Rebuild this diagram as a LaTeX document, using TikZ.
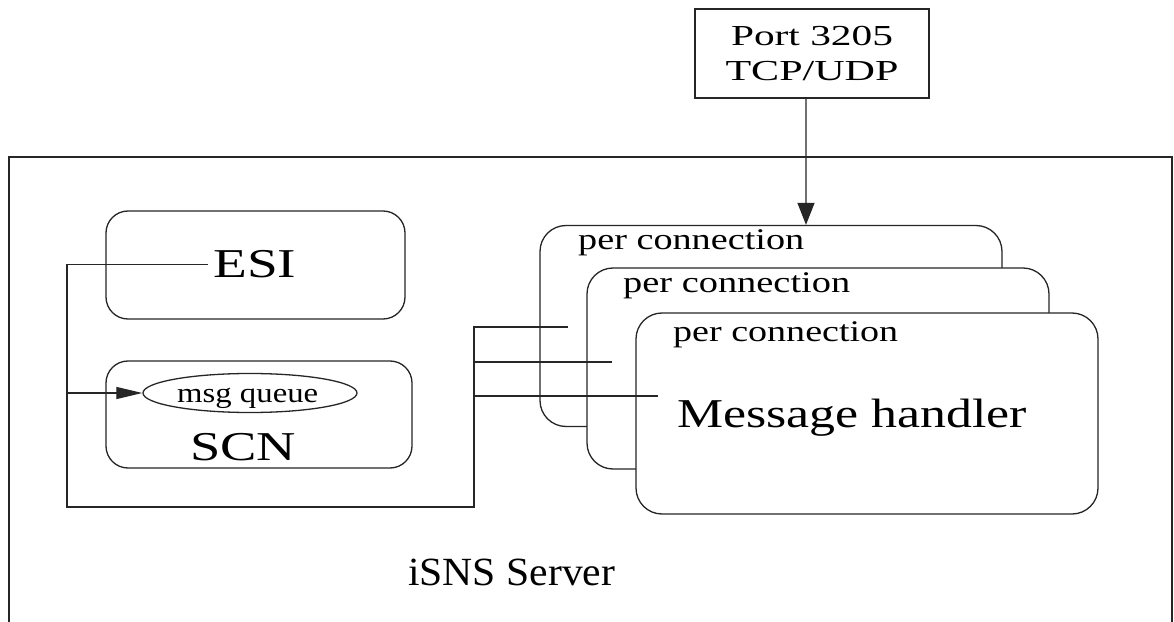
\documentclass[tikz,border=0pt]{standalone}
\usepackage{fontspec}
\setmainfont{Liberation Serif}
\usepackage{graphicx}
\usetikzlibrary{arrows.meta,shapes.geometric}
\newcommand{\fitw}[3]{\resizebox{#1bp}{\height}{\fontsize{#2bp}{#2bp}\selectfont #3}}
\begin{document}
\begin{tikzpicture}[x=1bp,y=-1bp,
  ln/.style={line width=1.3bp, draw=black!85},
  rbox/.style={ln, rectangle, rounded corners=22bp, inner sep=0pt, fill=white},
  hbox/.style={rbox, rounded corners=26bp, minimum width=462bp, minimum height=201bp},
  txt/.style={inner sep=0pt, anchor=base west},
  arrD/.style={ln, -{Triangle[length=22bp,width=17bp]}},
  arrR/.style={ln, -{Triangle[length=26bp,width=12bp]}}]
\useasboundingbox (0,0) rectangle (1174,622);
\fill[white] (0,0) rectangle (1174,622);
% outer server frame
\draw[ln] (9,622) -- (9,157) -- (1172,157) -- (1172,622);
\node[txt] (srv) at (408,585) {\fitw{207}{40}{iSNS Server}};
% port box
\node[ln, rectangle, inner sep=0pt, minimum width=234bp, minimum height=89bp, align=center,
      font=\fontsize{29bp}{35bp}\selectfont] (port) at (812,53.5)
  {\fitw{162}{29}{Port 3205}\\\fitw{173}{29}{TCP/UDP}};
% ESI and SCN
\node[rbox, minimum width=299bp, minimum height=108bp] (esi) at (255.5,265) {};
\node[txt] (esit) at (213,278) {\fitw{83}{41}{ESI}};
\node[rbox, minimum width=306bp, minimum height=107bp] (scn) at (259,414.5) {};
\node[txt] (scnt) at (190,460) {\fitw{106}{41}{SCN}};
\node[ln, ellipse, inner sep=0pt, minimum width=214bp, minimum height=39bp] (mq) at (250,393) {};
\node[txt] (mqt) at (177,402) {\fitw{141}{28}{msg queue}};
% per connection handlers
\node[hbox] (h1) at (771,326) {};
\node[txt] (p1) at (578,250) {\fitw{226}{30}{per connection}};
\node[hbox] (h2) at (818,368.5) {};
\node[txt] (p2) at (623,293) {\fitw{227}{30}{per connection}};
\node[hbox] (h3) at (867,413.5) {};
\node[txt] (p3) at (673,342) {\fitw{225}{30}{per connection}};
\node[txt] (mh) at (677,427) {\fitw{350}{41}{Message handler}};
% connectors
\draw[arrD] ([xshift=-6bp]port.south) -- ([xshift=35bp]h1.north);
\coordinate (c1) at (568,327);
\coordinate (c2) at (612,362);
\coordinate (c3) at (658,396);
\coordinate (lv) at (67,393);
\coordinate (rv) at (474,507);
\draw[ln] ([xshift=-5bp]esit.west) -| (lv) |- (rv) |- (c1);
\draw[ln] (rv |- c2) -- (c2);
\draw[ln] (rv |- c3) -- (c3);
\draw[arrR] (lv) -- (mq.west);
\end{tikzpicture}
\end{document}
